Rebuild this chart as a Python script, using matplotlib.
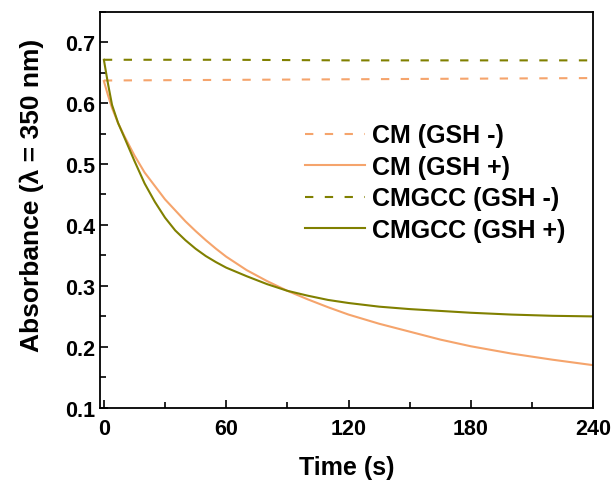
import matplotlib
matplotlib.use("Agg")
import matplotlib.pyplot as plt
from matplotlib.ticker import MultipleLocator

# Data
t_flat = [0, 60, 120, 180, 240]
cm_minus = [0.637, 0.638, 0.639, 0.640, 0.641]
cmgcc_minus = [0.671, 0.671, 0.670, 0.670, 0.670]

t_decay = [0, 2, 4, 7, 10, 15, 20, 25, 30, 35, 40, 45, 50, 55, 60, 70, 80,
           90, 100, 110, 120, 135, 150, 165, 180, 200, 220, 240]
cm_plus = [0.636, 0.613, 0.592, 0.567, 0.546, 0.514, 0.486, 0.464, 0.442,
           0.424, 0.406, 0.390, 0.375, 0.361, 0.348, 0.326, 0.308, 0.292,
           0.278, 0.265, 0.253, 0.238, 0.225, 0.212, 0.201, 0.189, 0.179, 0.170]
cmgcc_plus = [0.671, 0.632, 0.597, 0.567, 0.544, 0.505, 0.468, 0.438, 0.412,
              0.391, 0.375, 0.361, 0.349, 0.339, 0.330, 0.316, 0.303, 0.292,
              0.284, 0.277, 0.272, 0.266, 0.262, 0.259, 0.256, 0.253, 0.251, 0.250]

labels = ["CM (GSH -)", "CM (GSH +)", "CMGCC (GSH -)", "CMGCC (GSH +)"]
orange = "#F5A46C"
olive = "#808000"

plt.rcParams['font.family'] = ['Liberation Sans', 'DejaVu Sans']
plt.rcParams['font.weight'] = 'bold'

fig = plt.figure(figsize=(6.16, 4.85), dpi=100)
ax = fig.add_axes([0.162, 0.157, 0.801, 0.817])

ax.plot(t_flat, cm_minus, color=orange, lw=1.5, dashes=(4, 5.5), label=labels[0])
ax.plot(t_decay, cm_plus, color=orange, lw=1.5, label=labels[1])
ax.plot(t_flat, cmgcc_minus, color=olive, lw=1.5, dashes=(4, 5.5), label=labels[2])
ax.plot(t_decay, cmgcc_plus, color=olive, lw=1.5, label=labels[3])

ax.set_xlim(-2, 240)
ax.set_ylim(0.1, 0.75)
ax.xaxis.set_major_locator(MultipleLocator(60))
ax.xaxis.set_minor_locator(MultipleLocator(30))
ax.yaxis.set_minor_locator(MultipleLocator(0.05))
ax.set_yticks([0.1, 0.2, 0.3, 0.4, 0.5, 0.6, 0.7])
ax.tick_params(which='both', direction='in', top=False, right=False, labelsize=15.5)
ax.tick_params(which='major', length=6, width=1.2)
ax.tick_params(which='minor', length=4, width=1.2)
ax.tick_params(axis='x', pad=7)
for s in ax.spines.values():
    s.set_linewidth(1.3)

ax.set_xlabel("Time (s)", fontsize=18, fontweight='bold', labelpad=12)
ax.set_ylabel("Absorbance (λ = 350 nm)", fontsize=19, fontweight='bold')
ax.yaxis.set_label_coords(-0.114, 0.538)

ax.legend(loc='upper left', bbox_to_anchor=(0.37, 0.775), frameon=False,
          fontsize=18, handlelength=2.4, handletextpad=0.3, labelspacing=0.3)

fig.savefig("out.png", dpi=100)
